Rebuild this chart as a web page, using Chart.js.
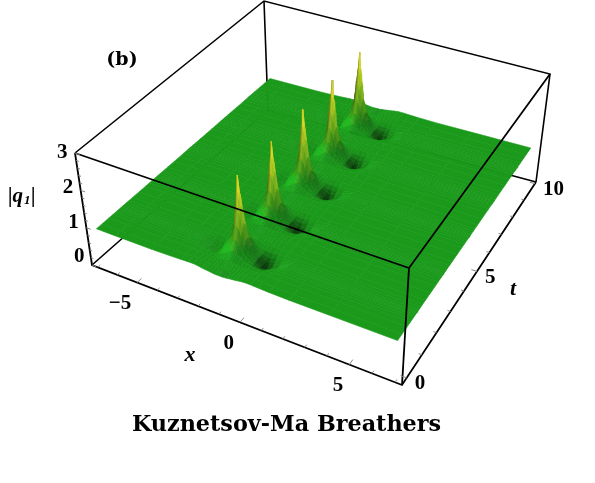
<!DOCTYPE html>
<html>
<head>
<meta charset="utf-8">
<style>
html,body{margin:0;padding:0;background:#fff;}
#wrap{width:595px;height:483px;}
</style>
<script src="https://cdn.jsdelivr.net/npm/chart.js@4/dist/chart.umd.min.js"></script>
</head>
<body>
<div id="wrap"><canvas id="myChart" width="595" height="483"></canvas></div>
<script>
// values
const xTicks = [-5, 0, 5];
const tTicks = [0, 5, 10];
const zTicks = [0, 1, 2, 3];
const peakTimes = [1, 2.87, 4.76, 6.63, 8.52];
const ridgeX = -0.98;
const surfaceEdgesX = [-6.9, 6.95];
const surfaceEdgesT = [-0.2, 9.85];
// distance from the ridge (x) for each column of the tables below
const xOffsets = [0, 0.06, 0.12, 0.2, 0.35, 0.5, 0.65, 0.8, 1.0, 1.2, 1.45, 1.8, 2.3, 3.2, 5];
// distance from the nearest peak time for each row
const tOffsets = [0, 0.05, 0.1, 0.18, 0.28, 0.4, 0.6, 0.93];
const qRow0 = [3.0, 2.55, 2.2, 1.75, 1.4, 1.2, 1.07, 0.93, 0.78, 0.74, 0.82, 0.95, 1.03, 1.01, 1];
const qRow1 = [2.55, 2.4, 2.1, 1.7, 1.38, 1.19, 1.06, 0.93, 0.78, 0.75, 0.83, 0.95, 1.03, 1.01, 1];
const qRow2 = [2.15, 2.05, 1.9, 1.6, 1.34, 1.17, 1.05, 0.93, 0.8, 0.77, 0.85, 0.96, 1.03, 1.01, 1];
const qRow3 = [1.75, 1.7, 1.62, 1.45, 1.27, 1.13, 1.03, 0.93, 0.83, 0.81, 0.88, 0.97, 1.03, 1.01, 1];
const qRow4 = [1.42, 1.4, 1.35, 1.28, 1.17, 1.07, 1.0, 0.94, 0.88, 0.87, 0.92, 0.98, 1.02, 1.01, 1];
const qRow5 = [1.18, 1.17, 1.15, 1.12, 1.07, 1.02, 0.98, 0.96, 0.94, 0.94, 0.96, 0.99, 1.02, 1, 1];
const qRow6 = [1.02, 1.02, 1.01, 1.01, 1.0, 0.99, 0.98, 0.98, 0.98, 0.99, 1.0, 1.01, 1.01, 1, 1];
const qRow7 = [0.96, 0.96, 0.96, 0.96, 0.97, 0.98, 0.99, 1.0, 1.02, 1.03, 1.03, 1.02, 1.01, 1, 1];
const qRows = [qRow0, qRow1, qRow2, qRow3, qRow4, qRow5, qRow6, qRow7];

// box corners on the page, used for the 3d view
const view = {
    lf0: [92, 265], rf0: [402, 385], rb0: [536, 182], lb0: [268, 110],
    lf3: [75, 153], rf3: [409, 268], rb3: [550, 74], lb3: [264, 1],
    xMin: -7.3, xMax: 7.3, tMin: -0.3, tMax: 10.1,
    xWarp: 1.096, tWarp: 0.818
};

function warp(u, k) {
    return u / (u + (1 - u) * k);
}

function mix(a, b, f) {
    return [a[0] + (b[0] - a[0]) * f, a[1] + (b[1] - a[1]) * f];
}

function project(x, t, z) {
    const u = warp((x - view.xMin) / (view.xMax - view.xMin), view.xWarp);
    const v = warp((t - view.tMin) / (view.tMax - view.tMin), view.tWarp);
    const w = z / 3;
    const low = mix(mix(view.lf0, view.rf0, u), mix(view.lb0, view.rb0, u), v);
    const high = mix(mix(view.lf3, view.rf3, u), mix(view.lb3, view.rb3, u), v);
    const p = mix(low, high, w);
    return { x: p[0], y: p[1] };
}

// full grid made from the tables
const xGrid = [surfaceEdgesX[0]];
for (let i = xOffsets.length - 1; i > 0; i--) xGrid.push(ridgeX - xOffsets[i]);
for (let i = 0; i < xOffsets.length; i++) xGrid.push(ridgeX + xOffsets[i]);
xGrid.push(surfaceEdgesX[1]);

const tGrid = [surfaceEdgesT[0]];
const rowIndex = [tOffsets.length - 1];
peakTimes.forEach(function (p) {
    for (let i = tOffsets.length - 1; i > 0; i--) {
        tGrid.push(p - tOffsets[i]);
        rowIndex.push(i);
    }
    tGrid.push(p);
    rowIndex.push(0);
    for (let i = 1; i < tOffsets.length - 1; i++) {
        tGrid.push(p + tOffsets[i]);
        rowIndex.push(i);
    }
});
tGrid.push(peakTimes[peakTimes.length - 1] + tOffsets[tOffsets.length - 1]);
rowIndex.push(tOffsets.length - 1);
tGrid.push(surfaceEdgesT[1]);
rowIndex.push(tOffsets.length - 1);

function rowValues(r) {
    const row = qRows[r];
    const out = [1];
    for (let i = row.length - 1; i > 0; i--) out.push(row[i]);
    for (let i = 0; i < row.length; i++) out.push(row[i]);
    out.push(1);
    return out;
}
const qGrid = rowIndex.map(rowValues);

// slopes at the grid corners, so the shading stays smooth from cell to cell
function slopeX(i, j) {
    const a = Math.max(0, j - 1), b = Math.min(xGrid.length - 1, j + 1);
    return (qGrid[i][b] - qGrid[i][a]) / (xGrid[b] - xGrid[a]);
}

function cellColor(i, j) {
    const h = (qGrid[i][j] + qGrid[i][j + 1] + qGrid[i + 1][j] + qGrid[i + 1][j + 1]) / 4;
    const dzdx = (slopeX(i, j) + slopeX(i, j + 1) + slopeX(i + 1, j) + slopeX(i + 1, j + 1)) / 4;
    const right = xGrid[j] >= ridgeX;
    const high = Math.min(1, Math.max(0, (h - 1.2) / 1.6));
    const tone = Math.pow(high, 0.75);
    let shade = 1;
    const low = Math.min(1, Math.max(0, (0.98 - h) / 0.22));
    shade -= (right ? 0.62 : 0.12) * low;
    if (dzdx < -0.05) {
        shade -= (right ? 0.32 : 0) * Math.min(1, -dzdx / 1.2) * Math.pow(1 - tone, 2);
    }
    if (dzdx > 0.05) {
        shade += 0.2 * Math.min(1, (dzdx - 0.05) / 0.4) * Math.pow(1 - tone, 4);
        shade -= 0.38 * Math.min(1, dzdx / 2) * Math.min(1, tone * 3);
    }
    const r = Math.min(255, (26 + (232 - 26) * tone) * shade);
    const g = Math.min(255, (153 + (222 - 153) * tone) * shade);
    const b = Math.min(255, (26 + (40 - 26) * tone) * shade);
    return "rgb(" + Math.round(r) + "," + Math.round(g) + "," + Math.round(b) + ")";
}

function polyline(points, color, width) {
    return {
        data: points,
        showLine: true,
        borderColor: color,
        borderWidth: width,
        pointRadius: 0,
        fill: false,
        clip: false
    };
}

// paint order: first in this list is painted first
const layers = [];

// box edges behind the surface
layers.push(polyline([project(view.xMin, view.tMin, 3), project(view.xMin, view.tMax, 3), project(view.xMax, view.tMax, 3), project(view.xMax, view.tMax, 0)], "#000", 1.6));
layers.push(polyline([project(view.xMin, view.tMax, 3), project(view.xMin, view.tMax, 0), project(view.xMin, view.tMin, 0)], "#000", 1.6));
layers.push(polyline([project(view.xMin, view.tMax, 0), project(view.xMax, view.tMax, 0)], "#000", 1.6));

// surface cells, back to front
for (let i = tGrid.length - 2; i >= 0; i--) {
    for (let j = 0; j < xGrid.length - 1; j++) {
        const color = cellColor(i, j);
        layers.push({
            data: [
                project(xGrid[j], tGrid[i], qGrid[i][j]),
                project(xGrid[j + 1], tGrid[i], qGrid[i][j + 1]),
                project(xGrid[j + 1], tGrid[i + 1], qGrid[i + 1][j + 1]),
                project(xGrid[j], tGrid[i + 1], qGrid[i + 1][j]),
                project(xGrid[j], tGrid[i], qGrid[i][j])
            ],
            showLine: true,
            fill: "shape",
            backgroundColor: color,
            borderColor: color,
            borderWidth: 0.6,
            pointRadius: 0,
            clip: false
        });
    }
}

// box edges in front of the surface
layers.push(polyline([project(view.xMin, view.tMin, 3), project(view.xMax, view.tMin, 3), project(view.xMax, view.tMax, 3)], "#000", 1.8));
layers.push(polyline([project(view.xMax, view.tMin, 3), project(view.xMax, view.tMin, 0)], "#000", 1.8));
layers.push(polyline([project(view.xMin, view.tMin, 3), project(view.xMin, view.tMin, 0), project(view.xMax, view.tMin, 0), project(view.xMax, view.tMax, 0)], "#000", 1.8));

// small tick marks
const tickPoints = [];
function addTick(p, q) {
    tickPoints.push(p, q, { x: NaN, y: NaN });
}
for (let x = -7; x <= 7; x++) {
    const big = x % 5 == 0;
    addTick(project(x, view.tMin, 0), project(x, view.tMin + (big ? 0.22 : 0.12), 0));
}
for (let t = 0; t <= 10; t++) {
    const big = t % 5 == 0;
    addTick(project(view.xMax, t, 0), project(view.xMax - (big ? 0.26 : 0.14), t, 0));
}
for (let n = 0; n <= 15; n++) {
    const z = n * 0.2;
    const big = n % 5 == 0;
    addTick(project(view.xMin, view.tMin, z), project(view.xMin + (big ? 0.22 : 0.13), view.tMin, z));
}
layers.push(polyline(tickPoints, "#888", 1));

layers.forEach(function (d, i) {
    d.order = layers.length - i;
});

const textPlugin = {
    id: "chartText",
    afterDatasetsDraw(chart) {
        const c = chart.ctx;
        const sx = chart.scales.x, sy = chart.scales.y;
        function put(text, px, py, font, align) {
            c.font = font;
            c.textAlign = align || "center";
            c.textBaseline = "middle";
            c.fillStyle = "#000";
            c.fillText(text, sx.getPixelForValue(px), sy.getPixelForValue(py));
        }
        c.save();
        const tickFont = "bold 21px 'Liberation Serif'";
        xTicks.forEach(function (x) {
            const p = project(x, view.tMin, 0);
            put(x < 0 ? "\u2212" + Math.abs(x) : String(x), p.x - 6, p.y + 21, tickFont, "right");
        });
        tTicks.forEach(function (t) {
            const p = project(view.xMax, t, 0);
            put(String(t), p.x + 8, p.y + 6, tickFont, "left");
        });
        zTicks.forEach(function (z) {
            const p = project(view.xMin, view.tMin, z);
            put(String(z), p.x - 7.5, p.y - (3 - z) * 2.7, tickFont, "right");
        });
        put("x", 190, 355, "italic bold 22px 'Liberation Serif'");
        put("t", 513, 289, "italic bold 22px 'Liberation Serif'");
        put("(b)", 122, 60, "bold 19px 'DejaVu Serif'");
        put("Kuznetsov-Ma Breathers", 286.5, 425, "bold 22.3px 'DejaVu Serif'");
        put("|q", 8, 197, "italic bold 21px 'Liberation Serif'", "left");
        put("1", 24, 201, "italic bold 13px 'Liberation Serif'", "left");
        put("|", 31, 197, "italic bold 21px 'Liberation Serif'", "left");
        c.restore();
    }
};

const chart = new Chart(document.getElementById("myChart"), {
    type: "scatter",
    data: { datasets: layers },
    options: {
        responsive: false,
        animation: false,
        events: [],
        layout: { padding: 0 },
        plugins: {
            legend: { display: false },
            tooltip: { enabled: false }
        },
        scales: {
            x: { type: "linear", min: 0, max: 595, display: false },
            y: { type: "linear", min: 0, max: 483, reverse: true, display: false }
        }
    },
    plugins: [textPlugin]
});
</script>
</body>
</html>
